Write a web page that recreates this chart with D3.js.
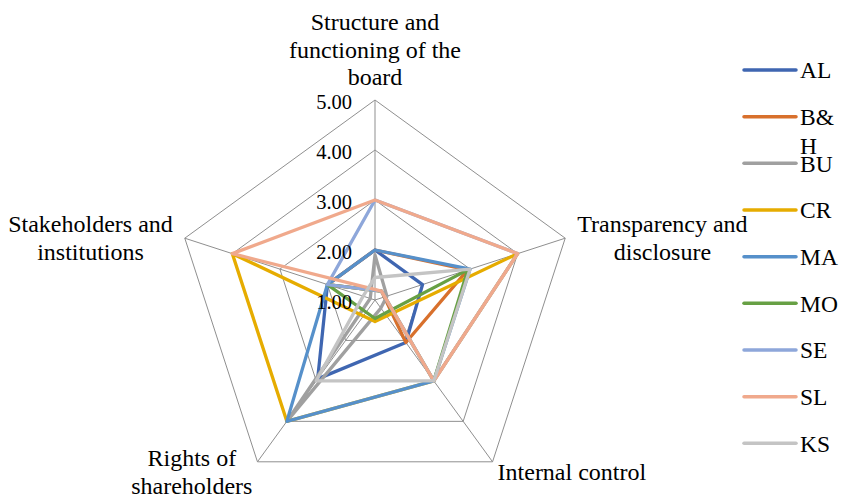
<!DOCTYPE html>
<html>
<head>
<meta charset="utf-8">
<script src="https://cdn.jsdelivr.net/npm/d3@7"></script>
<style>
  html, body { margin: 0; padding: 0; background: #ffffff; }
  svg { display: block; font-family: "Liberation Serif", "Times New Roman", serif; }
</style>
</head>
<body>
<svg id="chart" width="843" height="496"></svg>
<script>
// Governance dimensions (radar axes, clockwise from the top)
const axes = [
  "Structure and functioning of the board",
  "Transparency and disclosure",
  "Internal control",
  "Rights of shareholders",
  "Stakeholders and institutions"
];

// Country codes and their line colours
const seriesNames = ["AL", "B&H", "BU", "CR", "MA", "MO", "SE", "SL", "KS"];
const seriesColors = ["#3f66b1", "#d8702c", "#a0a0a0", "#e6ac00", "#5690ca",
                      "#67a044", "#8ea7da", "#f0a98c", "#c4c4c4"];

// Scores per axis (same order as `axes`); values under the 1.00 floor
// are drawn through the centre, on the opposite side of the spoke
const valuesAL  = [2.00, 2.00, 2.05, 2.95, 2.00];
const valuesBH  = [2.00, 2.95, 2.05, 0.78, 2.00];
const valuesBU  = [1.90, 1.25, 1.20, 4.00, 1.10];
const valuesCR  = [0.57, 4.00, 3.00, 4.00, 4.00];
const valuesMA  = [2.00, 3.00, 3.00, 4.00, 2.00];
const valuesMO  = [0.63, 2.95, 3.00, 0.78, 2.00];
const valuesSE  = [3.00, 4.00, 3.00, 0.78, 2.00];
const valuesSL  = [3.00, 4.00, 3.00, 0.78, 4.00];
const valuesKS  = [1.45, 3.00, 3.00, 3.00, 1.25];

const seriesValues = [valuesAL, valuesBH, valuesBU, valuesCR, valuesMA,
                      valuesMO, valuesSE, valuesSL, valuesKS];

// Radial scale ticks
const tickValues = [1, 2, 3, 4, 5];
const tickLabels = ["1.00", "2.00", "3.00", "4.00", "5.00"];

const svg = d3.select("#chart");
const cx = 375, cy = 300, outerR = 200;

const r = d3.scaleLinear().domain([1, 5]).range([0, outerR]);
const angle = d3.scalePoint().domain(d3.range(axes.length + 1)).range([0, 2 * Math.PI]);

const radial = d3.lineRadial()
  .angle((d, i) => angle(i))
  .radius(d => r(d))
  .curve(d3.curveLinearClosed);

const plot = svg.append("g").attr("transform", `translate(${cx},${cy})`);

// Pentagonal grid rings
plot.append("g").selectAll("path")
  .data(tickValues)
  .join("path")
  .attr("d", t => radial(axes.map(() => t)))
  .attr("fill", "none")
  .attr("stroke", "#8f8f8f")
  .attr("stroke-width", 1);

// Spokes
plot.append("g").selectAll("line")
  .data(axes)
  .join("line")
  .attr("x1", 0).attr("y1", 0)
  .attr("x2", (d, i) => r(5) * Math.sin(angle(i)))
  .attr("y2", (d, i) => -r(5) * Math.cos(angle(i)))
  .attr("stroke", "#8f8f8f")
  .attr("stroke-width", 1);

// Country polygons
plot.append("g").selectAll("path")
  .data(seriesValues)
  .join("path")
  .attr("d", d => radial(d))
  .attr("fill", "none")
  .attr("stroke", (d, i) => seriesColors[i])
  .attr("stroke-width", 3.3)
  .attr("stroke-linejoin", "round");

// Tick labels along the top spoke
plot.append("g").selectAll("text")
  .data(tickValues)
  .join("text")
  .attr("x", -23)
  .attr("y", t => -r(t) + 2)
  .attr("dy", "0.35em")
  .attr("text-anchor", "end")
  .attr("font-size", 20.5)
  .attr("fill", "#000")
  .text((t, i) => tickLabels[i]);

// Word wrapping for axis titles
function wrapWords(textSel, str, maxW, lh) {
  const words = str.split(" ");
  const lines = [];
  let cur = "";
  const probe = textSel.append("tspan");
  words.forEach(w => {
    const test = cur ? cur + " " + w : w;
    probe.text(test);
    if (probe.node().getComputedTextLength() > maxW && cur) {
      lines.push(cur);
      cur = w;
    } else {
      cur = test;
    }
  });
  lines.push(cur);
  probe.remove();
  lines.forEach((ln, k) => {
    textSel.append("tspan").attr("x", 0).attr("y", k * lh).text(ln);
  });
}

// Character wrapping for narrow legend entries
function wrapChars(textSel, str, maxW, lh) {
  const lines = [];
  let cur = "";
  const probe = textSel.append("tspan");
  for (const ch of str) {
    probe.text(cur + ch);
    if (probe.node().getComputedTextLength() > maxW && cur) {
      lines.push(cur);
      cur = ch;
    } else {
      cur += ch;
    }
  }
  lines.push(cur);
  probe.remove();
  lines.forEach((ln, k) => {
    textSel.append("tspan").attr("x", 0).attr("dy", k === 0 ? "0.35em" : lh).text(ln);
  });
}

// Axis titles placed outside the outer ring
axes.forEach((name, i) => {
  const a = angle(i);
  const s = Math.sin(a), c = Math.cos(a);
  const px = cx + r(5) * s, py = cy - r(5) * c;
  const g = svg.append("g");
  const t = g.append("text")
    .attr("text-anchor", "middle")
    .attr("font-size", 24)
    .attr("fill", "#000");
  wrapWords(t, name, 180, 27.5);
  const bb = t.node().getBBox();
  const gap = c < -0.5 ? 5 : 12;
  let x, y;
  if (s > 0.1) x = px + gap + bb.width / 2;
  else if (s < -0.1) x = px - gap - bb.width / 2;
  else x = px;
  if (c > 0.9) y = py - 10 - bb.height / 2;
  else if (c < -0.5) y = py + 10;
  else y = py;
  g.attr("transform",
    `translate(${x - (bb.x + bb.width / 2)},${y - (bb.y + bb.height / 2)})`);
});

// Legend
const legendY = d3.scalePoint().domain(seriesNames).range([70, 443.3]);
const legend = svg.append("g");
seriesNames.forEach((name, i) => {
  const y = legendY(name);
  legend.append("line")
    .attr("x1", 744).attr("x2", 796)
    .attr("y1", y).attr("y2", y)
    .attr("stroke", seriesColors[i])
    .attr("stroke-width", 3.5)
    .attr("stroke-linecap", "round");
  const t = legend.append("text")
    .attr("transform", `translate(800,${y})`)
    .attr("font-size", 23.5)
    .attr("fill", "#000");
  wrapChars(t, name, 42, 29);
});
</script>
</body>
</html>
